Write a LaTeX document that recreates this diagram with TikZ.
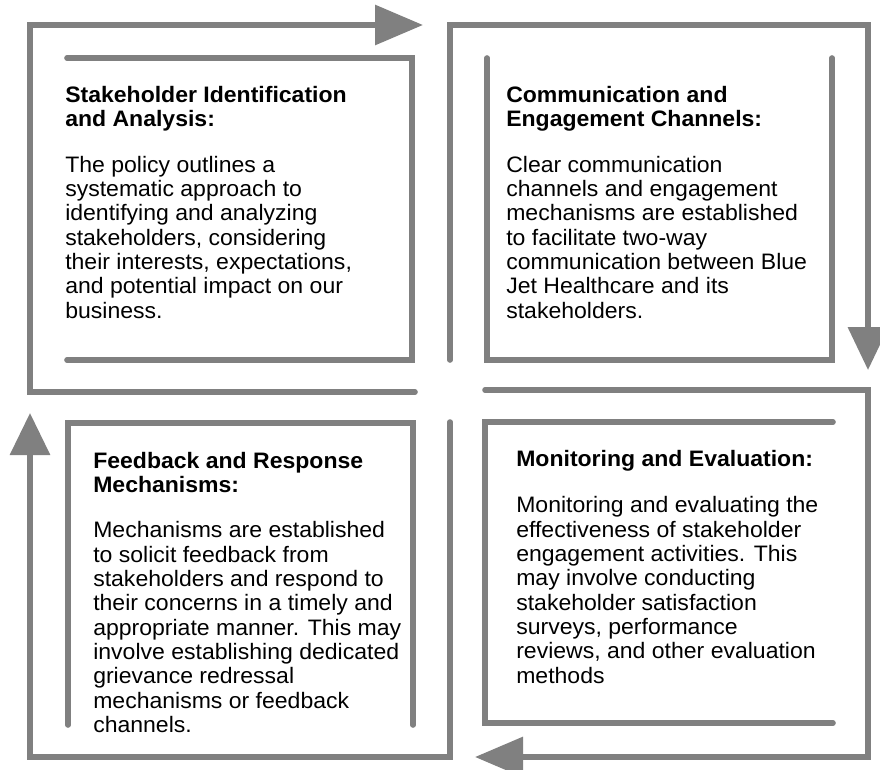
\documentclass[tikz,border=0pt]{standalone}
\usepackage{fontspec}
\setmainfont[FakeStretch=1.03]{Liberation Sans}
\usetikzlibrary{arrows.meta}
\definecolor{railgray}{RGB}{128,128,128}
\tikzset{
	rail/.style={draw=railgray, line width=0.14cm, line cap=round, line join=miter},
	railarrow/.style={rail, -{Triangle[length=#1, width=0.98cm]}},
	railarrow/.default=1.2cm,
	blurb/.style={anchor=north west, align=left, inner sep=0pt, font=\fontsize{15.9}{17.3}\selectfont}
}

\begin{document}
\begin{tikzpicture}
	\useasboundingbox (0,0) rectangle (22,-19.225);

			\node[blurb] (r1c1) at (1.625,-2.15) {\textbf{Stakeholder Identification}\\
			\textbf{and Analysis:}\\[15pt]
			The policy outlines a\\
			systematic approach to\\
			identifying and analyzing\\
			stakeholders, considering\\
			their interests, expectations,\\
			and potential impact on our\\
			business.};

			\node[blurb] (r1c2) at (12.65,-2.15) {\textbf{Communication and}\\
			\textbf{Engagement Channels:}\\[15pt]
			Clear communication\\
			channels and engagement\\
			mechanisms are established\\
			to facilitate two-way\\
			communication between Blue\\
			Jet Healthcare and its\\
			stakeholders.};

			\node[blurb] (r2c1) at (2.325,-11.29) {\textbf{Feedback and Response}\\
			\textbf{Mechanisms:}\\[15pt]
			Mechanisms are established\\
			to solicit feedback from\\
			stakeholders and respond to\\
			their concerns in a timely and\\
			appropriate manner. This may\\
			involve establishing dedicated\\
			grievance redressal\\
			mechanisms or feedback\\
			channels.};

			\node[blurb] (r2c2) at (12.9,-11.24) {\textbf{Monitoring and Evaluation:}\\[16pt]
			Monitoring and evaluating the\\
			effectiveness of stakeholder\\
			engagement activities. This\\
			may involve conducting\\
			stakeholder satisfaction\\
			surveys, performance\\
			reviews, and other evaluation\\
			methods};

		% outer loop, one arm per quarter
		\draw[railarrow] (10.375,-9.8) -- (0.75,-9.8) -- (0.75,-0.625) -- (10.575,-0.625);
		\draw[railarrow=1.07cm] (11.25,-9.0) -- (11.25,-0.625) -- (21.7,-0.625) -- (21.7,-9.25);
		\draw[railarrow] (12.125,-9.75) -- (21.7,-9.75) -- (21.7,-18.925) -- (11.875,-18.925);
		\draw[railarrow=1.05cm] (11.25,-10.55) -- (11.25,-18.925) -- (0.75,-18.925) -- (0.75,-10.325);

		% inner brackets
		\draw[rail] (1.675,-1.45) -- (10.3,-1.45) -- (10.3,-9.0) -- (1.675,-9.0);
		\draw[rail] (12.175,-1.45) -- (12.175,-9.0) -- (20.8,-9.0) -- (20.8,-1.45);
		\draw[rail] (20.825,-10.55) -- (12.125,-10.55) -- (12.125,-18.075) -- (20.825,-18.075);
		\draw[rail] (1.7,-18.125) -- (1.7,-10.575) -- (10.325,-10.575) -- (10.325,-18.125);
\end{tikzpicture}
\end{document}
